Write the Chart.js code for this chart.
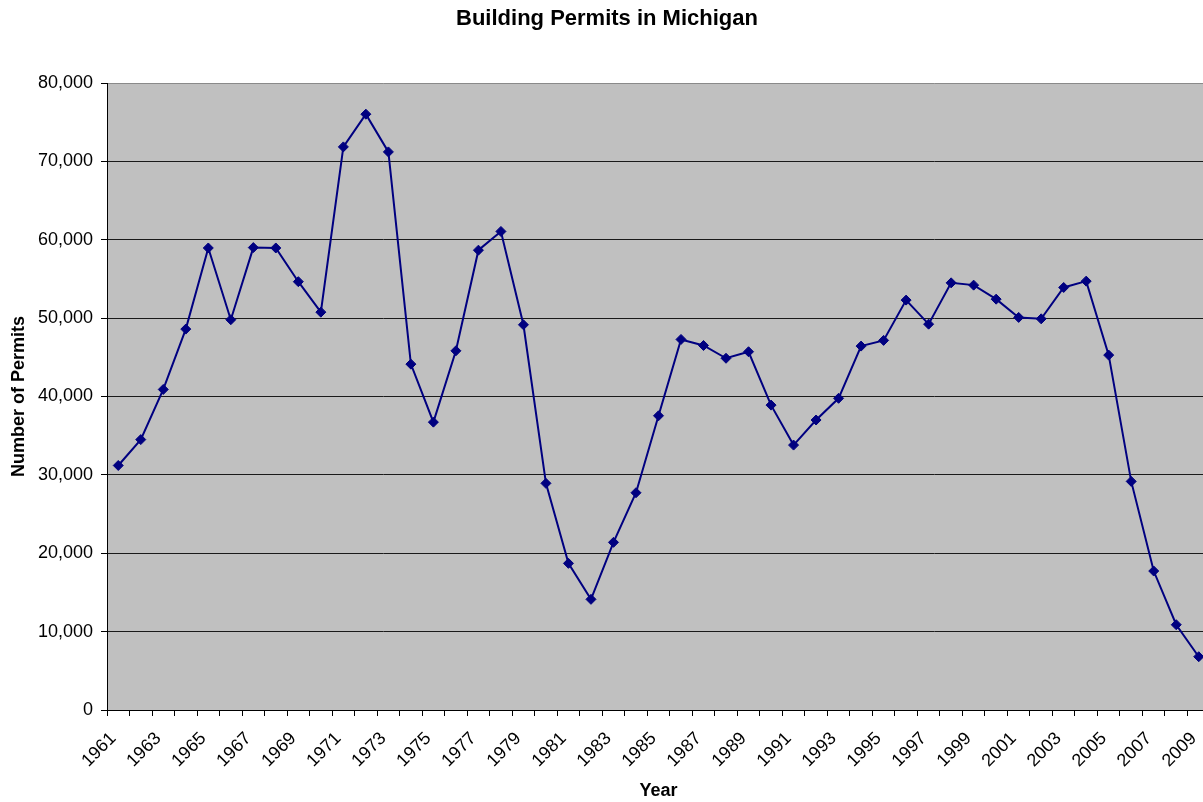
<!DOCTYPE html>
<html>
<head>
<meta charset="utf-8">
<title>Building Permits in Michigan</title>
<script src="https://cdn.jsdelivr.net/npm/chart.js@4/dist/chart.umd.min.js"></script>
<style>
   html, body { margin: 0; padding: 0; background: #fff; overflow: hidden; }
   #chart { display: block; }
</style>
</head>
<body>
<canvas id="chart" width="1216" height="802"></canvas>
<script>
'use strict';

const years = [
   '1961', '1962', '1963', '1964', '1965', '1966', '1967', '1968', '1969', '1970',
   '1971', '1972', '1973', '1974', '1975', '1976', '1977', '1978', '1979', '1980',
   '1981', '1982', '1983', '1984', '1985', '1986', '1987', '1988', '1989', '1990',
   '1991', '1992', '1993', '1994', '1995', '1996', '1997', '1998', '1999', '2000',
   '2001', '2002', '2003', '2004', '2005', '2006', '2007', '2008', '2009'
];

const permits = [
   31200, 34500, 40900, 48600, 58950, 49800, 59000, 58950, 54650, 50760,
   71850, 76020, 71210, 44130, 36730, 45830, 58670, 61060, 49150, 28920,
   18710, 14120, 21390, 27720, 37540, 47280, 46510, 44880, 45710, 38900,
   33800, 37000, 39770, 46430, 47160, 52300, 49230, 54500, 54210, 52420,
   50090, 49910, 53910, 54720, 45280, 29170, 17730, 10880, 6800
];

const yTicks = [0, 10000, 20000, 30000, 40000, 50000, 60000, 70000, 80000];

const fontFamily = '"Liberation Sans", Arial, sans-serif';

// grey plot area like the old excel charts
const plotBackground = {
   id: 'plotBackground',
   beforeDraw(chart) {
      const a = chart.chartArea;
      const ctx = chart.ctx;
      ctx.save();
      ctx.fillStyle = '#c0c0c0';
      ctx.fillRect(a.left, a.top, a.right - a.left, a.bottom - a.top);
      ctx.restore();
   }
};

const config = {
   type: 'line',
   data: {
      labels: years,
      datasets: [{
         label: 'Permits',
         data: permits,
         borderColor: '#000080',
         backgroundColor: '#000080',
         borderWidth: 2,
         tension: 0,
         fill: false,
         pointStyle: 'rectRot',
         pointRadius: 5,
         pointBorderWidth: 1,
         pointBorderColor: '#000080',
         pointBackgroundColor: '#000080'
      }]
   },
   options: {
      responsive: false,
      devicePixelRatio: 1,
      animation: false,
      layout: {
         padding: { left: 0, right: 2, top: 0, bottom: 0 }
      },
      scales: {
         x: {
            type: 'category',
            offset: true,
            grid: {
               offset: true,
               drawOnChartArea: false,
               drawTicks: true,
               tickLength: 6,
               tickColor: '#000'
            },
            border: { color: '#000', width: 1 },
            ticks: {
               autoSkip: false,
               maxRotation: 45,
               minRotation: 45,
               padding: 12,
               labelOffset: -5,
               color: '#000',
               font: { family: fontFamily, size: 18 },
               callback: function (val, i) {
                  return i % 2 === 0 ? years[i] : '';
               }
            },
            title: {
               display: true,
               text: 'Year',
               color: '#000',
               font: { family: fontFamily, size: 18, weight: 'bold' },
               padding: { top: 2, bottom: 0 }
            },
            afterFit: function (scale) {
               scale.height = 92;
               // the rotated labels should not push the plot in from the right
               scale.paddingRight = 0;
            }
         },
         y: {
            min: 0,
            max: 80000,
            grid: {
               color: function (ctx) {
                  if (ctx.tick && ctx.tick.value === 80000)
                     return '#8a8a8a';
                  return '#1a1a1a';
               },
               lineWidth: 1,
               drawTicks: true,
               tickLength: 6,
               tickColor: '#000'
            },
            border: { color: '#000', width: 1 },
            afterBuildTicks: function (scale) {
               scale.ticks = yTicks.map(v => ({ value: v }));
            },
            ticks: {
               padding: 8,
               color: '#000',
               font: { family: fontFamily, size: 18 },
               callback: function (value) {
                  return value.toLocaleString('en-US');
               }
            },
            title: {
               display: true,
               text: 'Number of Permits',
               color: '#000',
               font: { family: fontFamily, size: 18, weight: 'bold' },
               padding: { top: 8, bottom: 0 }
            },
            afterFit: function (scale) {
               scale.width = 107;
            }
         }
      },
      plugins: {
         legend: { display: false },
         tooltip: { enabled: false },
         title: {
            display: true,
            text: 'Building Permits in Michigan',
            color: '#000',
            font: { family: fontFamily, size: 22, weight: 'bold' },
            padding: { top: 6, bottom: 50.6 }
         }
      }
   },
   plugins: [plotBackground]
};

new Chart(document.getElementById('chart'), config);
</script>
</body>
</html>
